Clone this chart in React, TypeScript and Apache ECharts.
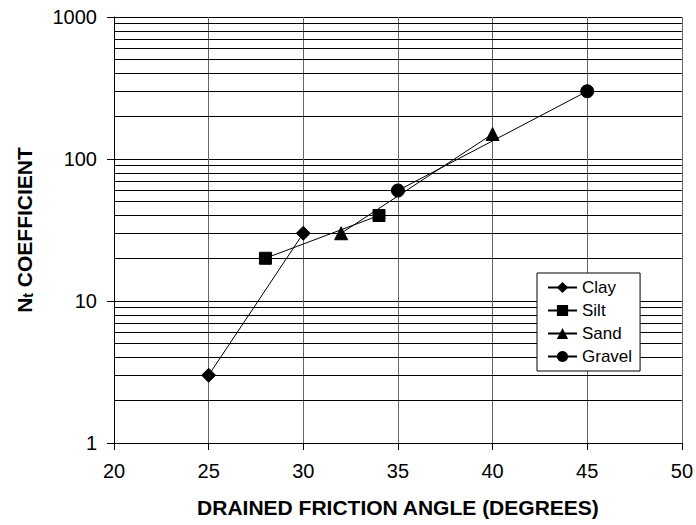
import React, { useEffect, useRef } from "react";
import * as echarts from "echarts";

const xTicks = { min: 20, max: 50, interval: 5 };
const yRange = { min: 1, max: 1000 };

const clayX = [25, 30];
const clayY = [3, 30];
const siltX = [28, 34];
const siltY = [20, 40];
const sandX = [32, 40];
const sandY = [30, 150];
const gravelX = [35, 45];
const gravelY = [60, 300];

const minorGridValues = [2, 3, 4, 5, 6, 7, 8, 9, 20, 30, 40, 50, 60, 70, 80, 90, 200, 300, 400, 500, 600, 700, 800, 900];

const seriesNames = ["Clay", "Silt", "Sand", "Gravel"];

const FONT = "'Liberation Sans', Arial, sans-serif";

function pairs(xs: number[], ys: number[]) {
  return xs.map((x, i) => [x, ys[i]]);
}

export default function App() {
  const ref = useRef<HTMLDivElement>(null);
  useEffect(() => {
    if (!ref.current) return;
    const chart = echarts.init(ref.current, undefined, { renderer: "svg" });
    const lineSeries = (name: string, xs: number[], ys: number[], symbol: string, size: number) => ({
      name,
      type: "line",
      data: pairs(xs, ys),
      symbol,
      symbolSize: size,
      z: 5,
      lineStyle: { color: "#000", width: 1 },
      itemStyle: { color: "#000", borderColor: "#000" },
      emphasis: { disabled: true },
    });
    chart.setOption({
      animation: false,
      backgroundColor: "#fff",
      textStyle: { fontFamily: FONT },
      grid: { left: 111, right: 13.5, top: 17, bottom: 82 },
      xAxis: {
        type: "value",
        min: xTicks.min,
        max: xTicks.max,
        interval: xTicks.interval,
        name: "DRAINED FRICTION ANGLE (DEGREES)",
        nameLocation: "middle",
        nameGap: 54,
        nameTextStyle: { fontFamily: FONT, fontSize: 21, fontWeight: "bold", color: "#000" },
        axisLine: { show: true, lineStyle: { color: "#000", width: 1 } },
        axisTick: { show: true, inside: false, length: 7, lineStyle: { color: "#000" } },
        axisLabel: { fontFamily: FONT, fontSize: 20, color: "#000", margin: 18 },
        splitLine: { show: true, lineStyle: { color: "#666", width: 1 } },
      },
      yAxis: {
        type: "log",
        logBase: 10,
        min: yRange.min,
        max: yRange.max,
        name: "{a|N}{b|t}{a| COEFFICIENT}",
        nameLocation: "middle",
        nameGap: 79,
        nameRotate: 90,
        nameTextStyle: {
          fontFamily: FONT,
          fontSize: 21,
          fontWeight: "bold",
          color: "#000",
          rich: {
            a: { fontFamily: FONT, fontSize: 21, fontWeight: "bold", color: "#000", lineHeight: 21, verticalAlign: "top" },
            b: { fontFamily: FONT, fontSize: 14, fontWeight: "bold", color: "#000", lineHeight: 14, padding: [13, 0, 0, 0], verticalAlign: "bottom" },
          },
        },
        axisLine: { show: true, lineStyle: { color: "#000", width: 1 } },
        axisTick: { show: true, inside: false, length: 7, lineStyle: { color: "#000" } },
        axisLabel: { fontFamily: FONT, fontSize: 20, color: "#000", margin: 17, formatter: (v: number) => String(v) },
        splitLine: { show: true, lineStyle: { color: "#000", width: 1 } },
        minorTick: { show: false },
        minorSplitLine: { show: false },
      },
      legend: {
        data: seriesNames,
        orient: "vertical",
        left: 537,
        top: 273,
        backgroundColor: "#fff",
        borderColor: "#000",
        borderWidth: 1,
        borderRadius: 0,
        padding: [6, 8, 6, 10],
        itemGap: 6,
        itemWidth: 29,
        itemHeight: 14,
        z: 10,
        textStyle: { fontFamily: FONT, fontSize: 17, color: "#000" },
      },
      series: [
        {
          name: "_grid",
          type: "line",
          data: [],
          z: 1,
          silent: true,
          markLine: {
            silent: true,
            symbol: ["none", "none"],
            label: { show: false },
            emphasis: { disabled: true },
            lineStyle: { color: "#000", width: 1, type: "solid" },
            data: minorGridValues.map((v) => ({ yAxis: v })),
          },
        },
        lineSeries("Clay", clayX, clayY, "diamond", 14),
        lineSeries("Silt", siltX, siltY, "rect", 12),
        lineSeries("Sand", sandX, sandY, "triangle", 13),
        lineSeries("Gravel", gravelX, gravelY, "circle", 13),
      ],
    });
    return () => chart.dispose();
  }, []);
  return <div ref={ref} style={{ width: 696, height: 525, position: "absolute", left: 0, top: 0 }} />;
}
